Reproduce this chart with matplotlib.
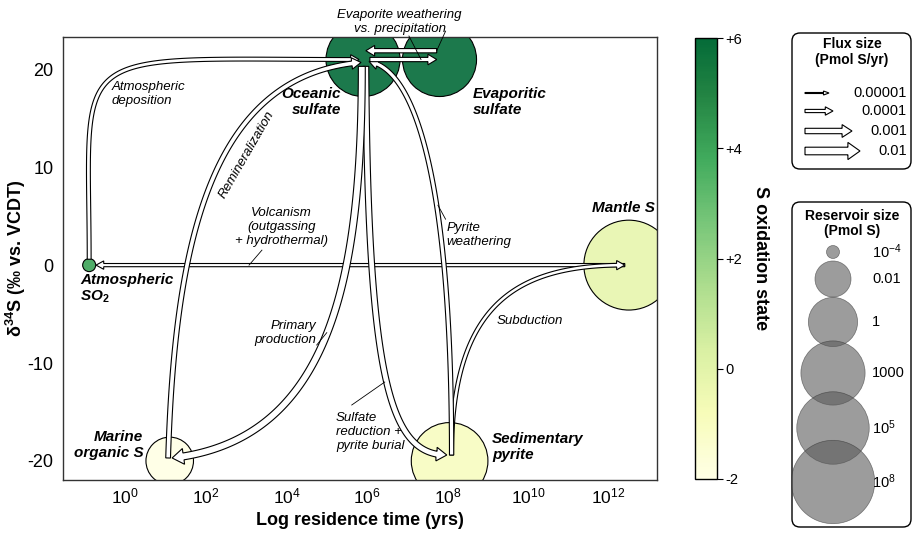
import numpy as np
import matplotlib
matplotlib.use("Agg")
import matplotlib.pyplot as plt
from matplotlib.patches import Polygon, FancyBboxPatch
from matplotlib.colors import LinearSegmentedColormap, Normalize
from matplotlib.cm import ScalarMappable

plt.rcParams['font.family'] = ['Liberation Sans', 'DejaVu Sans']
plt.rcParams['mathtext.fontset'] = 'custom'
plt.rcParams['mathtext.rm'] = 'Liberation Sans'
plt.rcParams['mathtext.it'] = 'Liberation Sans:italic'
plt.rcParams['mathtext.bf'] = 'Liberation Sans:bold'

# Reservoirs: log10 residence time (yr), d34S (permil), log10 size (Pmol S), S oxidation state
res_names = ["Atmospheric SO2", "Oceanic sulfate", "Evaporitic sulfate",
             "Marine organic S", "Sedimentary pyrite", "Mantle S"]
log_tau = [-0.9, 5.9, 7.8, 1.1, 8.05, 12.5]
d34s = [0, 21, 21, -20, -20, 0]
log_size = [-4.0, 5.4, 5.4, -0.3, 6.1, 10.0]
ox_state = [4, 6, 6, -2, -1, -0.2]

# Fluxes between reservoirs (indices into res_names), log10 Pmol S/yr
flux_names = ["Atmospheric deposition", "Remineralization", "Primary production",
              "Sulfate reduction + pyrite burial", "Pyrite weathering", "Subduction",
              "Volcanism", "Evaporite weathering", "Evaporite precipitation"]
flux_src = [0, 3, 1, 1, 4, 4, 5, 2, 1]
flux_dst = [1, 1, 3, 4, 1, 5, 0, 1, 2]
log_flux = [-3.7, -3.3, -2.3, -2.8, -3.5, -3.8, -4.0, -3.5, -3.5]

# Legend entries
legend_flux = [-5, -4, -3, -2]
legend_flux_labels = ["0.00001", "0.0001", "0.001", "0.01"]
legend_size = [-4, -2, 0, 3, 5, 8]
legend_size_labels = ["10$^{-4}$", "0.01", "1", "1000", "10$^{5}$", "10$^{8}$"]

# Arrow layout: offsets of the ends from reservoir centres, and bend of the
# two inner bezier control points as fractions of the (dx, dy) span
arrow_start = [(0, 0.6), (-0.04, 0.3), (-0.03, -0.7), (0.07, -0.7), (0.05, 0.6),
               (0.05, 0.6), (-0.1, 0), (-0.07, 0.9), (0.17, 0)]
arrow_end = [(-0.1, 0), (-0.05, -0.3), (0.06, 0.3), (-0.07, 0.6), (0.15, -0.2),
             (-0.1, 0), (0.17, 0), (0.07, 0.9), (-0.07, 0)]
straight = (1 / 3, 1 / 3, 2 / 3, 2 / 3)
arrow_bend = [(0, 1.096, -0.107, 1.0), (0.036, 0.576, 0.243, 0.968),
              (0, 0.546, 0.168, 0.954), (0.025, 0.807, 0.297, 1.0),
              (0, 0.648, 0.384, 0.978), (0, 0.81, 0.393, 1.0),
              straight, straight, straight]
draw_order = [6, 0, 1, 5, 4, 3, 2, 7, 8]

W, H = 915, 533


def px_box(x0, y0, x1, y1):
    return [x0 / W, 1 - y1 / H, (x1 - x0) / W, (y1 - y0) / H]


def marker_area(log_s):
    # circle area grows with log10 of the reservoir size
    return 292.8 * (np.asarray(log_s, float) + 4.3)


def shaft_width(lf):
    return 1.0 + 2.2 * (lf + 5)


def bezier(ctrl, n=240):
    t = np.linspace(0, 1, n)[:, None]
    p0, p1, p2, p3 = ctrl
    return (1 - t) ** 3 * p0 + 3 * (1 - t) ** 2 * t * p1 + 3 * (1 - t) * t ** 2 * p2 + t ** 3 * p3


def hollow_arrow(axes, ctrl, width, zorder=4):
    """White arrow with black outline along a cubic bezier (built in pixels)."""
    head_w = 2 * width + 2
    head_len = width + 4.5
    pts = axes.transData.transform(np.asarray(ctrl, float))
    curve = bezier(pts)
    seg = np.hypot(*np.diff(curve, axis=0).T)
    s = np.concatenate([[0], np.cumsum(seg)])
    cut = s[-1] - head_len
    base = np.array([np.interp(cut, s, curve[:, 0]), np.interp(cut, s, curve[:, 1])])
    shaft = np.vstack([curve[s < cut - 0.5], base])
    tang = np.gradient(shaft, axis=0)
    tang /= np.hypot(tang[:, 0], tang[:, 1])[:, None]
    nrm = np.column_stack([-tang[:, 1], tang[:, 0]])
    tip = curve[-1]
    d = (tip - base) / np.hypot(*(tip - base))
    n = np.array([-d[1], d[0]])
    poly = np.vstack([shaft + nrm * width / 2, base + n * head_w / 2, tip,
                      base - n * head_w / 2, (shaft - nrm * width / 2)[::-1]])
    axes.add_patch(Polygon(axes.transData.inverted().transform(poly), closed=True,
                           fc="white", ec="black", lw=0.8, joinstyle="miter",
                           zorder=zorder))


fig = plt.figure(figsize=(9.15, 5.33), dpi=100)
ax = fig.add_axes(px_box(63, 37, 657, 480))
ax.set_xlim(-1.55, 13.2)
ax.set_ylim(-21.95, 23.3)

cmap = LinearSegmentedColormap.from_list("ox", plt.cm.YlGn(np.linspace(0, 0.86, 256)))
norm = Normalize(-2, 6)

# reservoirs
fc = cmap(norm(np.array(ox_state, float)))
fc[:, 3] = 0.9
ax.scatter(log_tau, d34s, s=marker_area(log_size), facecolors=fc,
           edgecolors="black", linewidths=0.8, zorder=2)

# fluxes
res_xy = np.column_stack([log_tau, d34s]).astype(float)
for i in draw_order:
    p0 = res_xy[flux_src[i]] + arrow_start[i]
    p3 = res_xy[flux_dst[i]] + arrow_end[i]
    dx, dy = p3 - p0
    a1, b1, a2, b2 = arrow_bend[i]
    p1 = p0 + [a1 * dx, b1 * dy]
    p2 = p0 + [a2 * dx, b2 * dy]
    hollow_arrow(ax, [p0, p1, p2, p3], shaft_width(log_flux[i]))

# axes styling
ax.set_xticks(range(0, 13, 2))
ax.set_xticklabels(["10$^{%d}$" % k for k in range(0, 13, 2)])
ax.set_yticks([-20, -10, 0, 10, 20])
ax.set_yticklabels(["-20", "-10", "0", "10", "20"])
ax.tick_params(axis="x", length=0, labelsize=12.5, pad=5)
ax.tick_params(axis="y", length=0, labelsize=13, pad=7)
for sp in ax.spines.values():
    sp.set_color("#333333")
    sp.set_linewidth(1.0)
ax.set_xlabel("Log residence time (yrs)", fontsize=13, fontweight="bold", labelpad=4)
ax.set_ylabel(r"δ$^{\mathbf{34}}$S (‰ vs. VCDT)", fontsize=13, fontweight="bold")
ax.yaxis.set_label_coords(-0.059, 0.5)

# reservoir names
bi = dict(fontsize=11, fontweight="bold", style="italic", va="center", clip_on=False)
ax.text(5.35, 16.7, "Oceanic\nsulfate", ha="right", multialignment="right", **bi)
ax.text(8.63, 16.7, "Evaporitic\nsulfate", ha="left", **bi)
ax.text(13.14, 5.8, "Mantle S", ha="right", **bi)
ax.text(-1.13, -2.45, "Atmospheric\nSO$_\\mathbf{2}$", ha="left", **bi)
ax.text(0.44, -18.4, "Marine\norganic S", ha="right", multialignment="right", **bi)
ax.text(9.1, -18.6, "Sedimentary\npyrite", ha="left", **bi)

# flux annotations
it = dict(fontsize=9.5, style="italic", va="center", clip_on=False)
ax.text(6.81, 24.8, "Evaporite weathering\nvs. precipitation", ha="center", **it)
ax.text(-0.35, 17.45, "Atmospheric\ndeposition", ha="left", **it)
ax.text(3.0, 11.3, "Remineralization", ha="center", rotation=60, rotation_mode="anchor", **it)
ax.text(3.87, 3.9, "Volcanism\n(outgassing\n+ hydrothermal)", ha="center", **it)
ax.text(7.98, 3.06, "Pyrite\nweathering", ha="left", **it)
ax.text(4.73, -6.94, "Primary\nproduction", ha="right", multialignment="right", **it)
ax.text(10.04, -5.71, "Subduction", ha="center", **it)
ax.text(5.23, -17.04, "Sulfate\nreduction +\npyrite burial", ha="left", **it)

leaders = [((7.95, 23.9), (7.73, 21.9)), ((7.04, 23.4), (7.34, 21.0)),
           ((3.39, 1.53), (3.07, 0.0)), ((7.95, 4.69), (7.76, 6.12)),
           ((4.75, -8.16), (5.0, -6.9)), ((5.62, -14.29), (6.44, -11.94))]
for (xa, ya), (xb, yb) in leaders:
    ax.plot([xa, xb], [ya, yb], color="black", lw=0.6, zorder=5, clip_on=False)

# colour bar for the oxidation state
cax = fig.add_axes(px_box(695, 38, 717, 479))
cb = fig.colorbar(ScalarMappable(norm=norm, cmap=cmap), cax=cax)
cb.set_ticks([-2, 0, 2, 4, 6])
cb.set_ticklabels(["-2", "0", "+2", "+4", "+6"])
cax.tick_params(labelsize=10.5, length=4, width=0.8, pad=2)
cb.outline.set_linewidth(1.0)
fig.text(760 / W, 1 - 258 / H, "S oxidation state", rotation=270, ha="center",
         va="center", fontsize=13, fontweight="bold")

# legends drawn on a pixel-space overlay
lax = fig.add_axes([0, 0, 1, 1])
lax.set_xlim(0, W)
lax.set_ylim(H, 0)
lax.axis("off")

for y0, y1 in [(33, 169), (202, 527)]:
    lax.add_patch(FancyBboxPatch((792, y0), 119, y1 - y0,
                                 boxstyle="round,pad=0,rounding_size=8",
                                 fc="white", ec="black", lw=1.0))

lax.text(852, 44, "Flux size", ha="center", va="center", fontsize=10, fontweight="bold")
lax.text(852, 60, "(Pmol S/yr)", ha="center", va="center", fontsize=10, fontweight="bold")
flux_rows = [93, 111, 131, 151]
flux_len = [24, 28, 47, 55]
for lf, lab, yy, ln in zip(legend_flux, legend_flux_labels, flux_rows, flux_len):
    p0 = np.array([805.0, yy])
    p3 = np.array([805.0 + ln, yy])
    hollow_arrow(lax, [p0, p0 + (p3 - p0) / 3, p0 + 2 * (p3 - p0) / 3, p3], shaft_width(lf))
    lax.text(907, yy, lab, ha="right", va="center", fontsize=10.5)

lax.text(852, 216, "Reservoir size", ha="center", va="center", fontsize=10, fontweight="bold")
lax.text(852, 231, "(Pmol S)", ha="center", va="center", fontsize=10, fontweight="bold")
size_rows = [252, 279, 322, 373, 428, 482]
lax.scatter([833] * len(legend_size), size_rows, s=marker_area(legend_size),
            facecolors="#5a5a5a", edgecolors="#333333", linewidths=0.5, alpha=0.6)
for lab, yy in zip(legend_size_labels, size_rows):
    lax.text(872, yy, lab, ha="left", va="center", fontsize=10.5)

fig.savefig("out.png", dpi=100)
